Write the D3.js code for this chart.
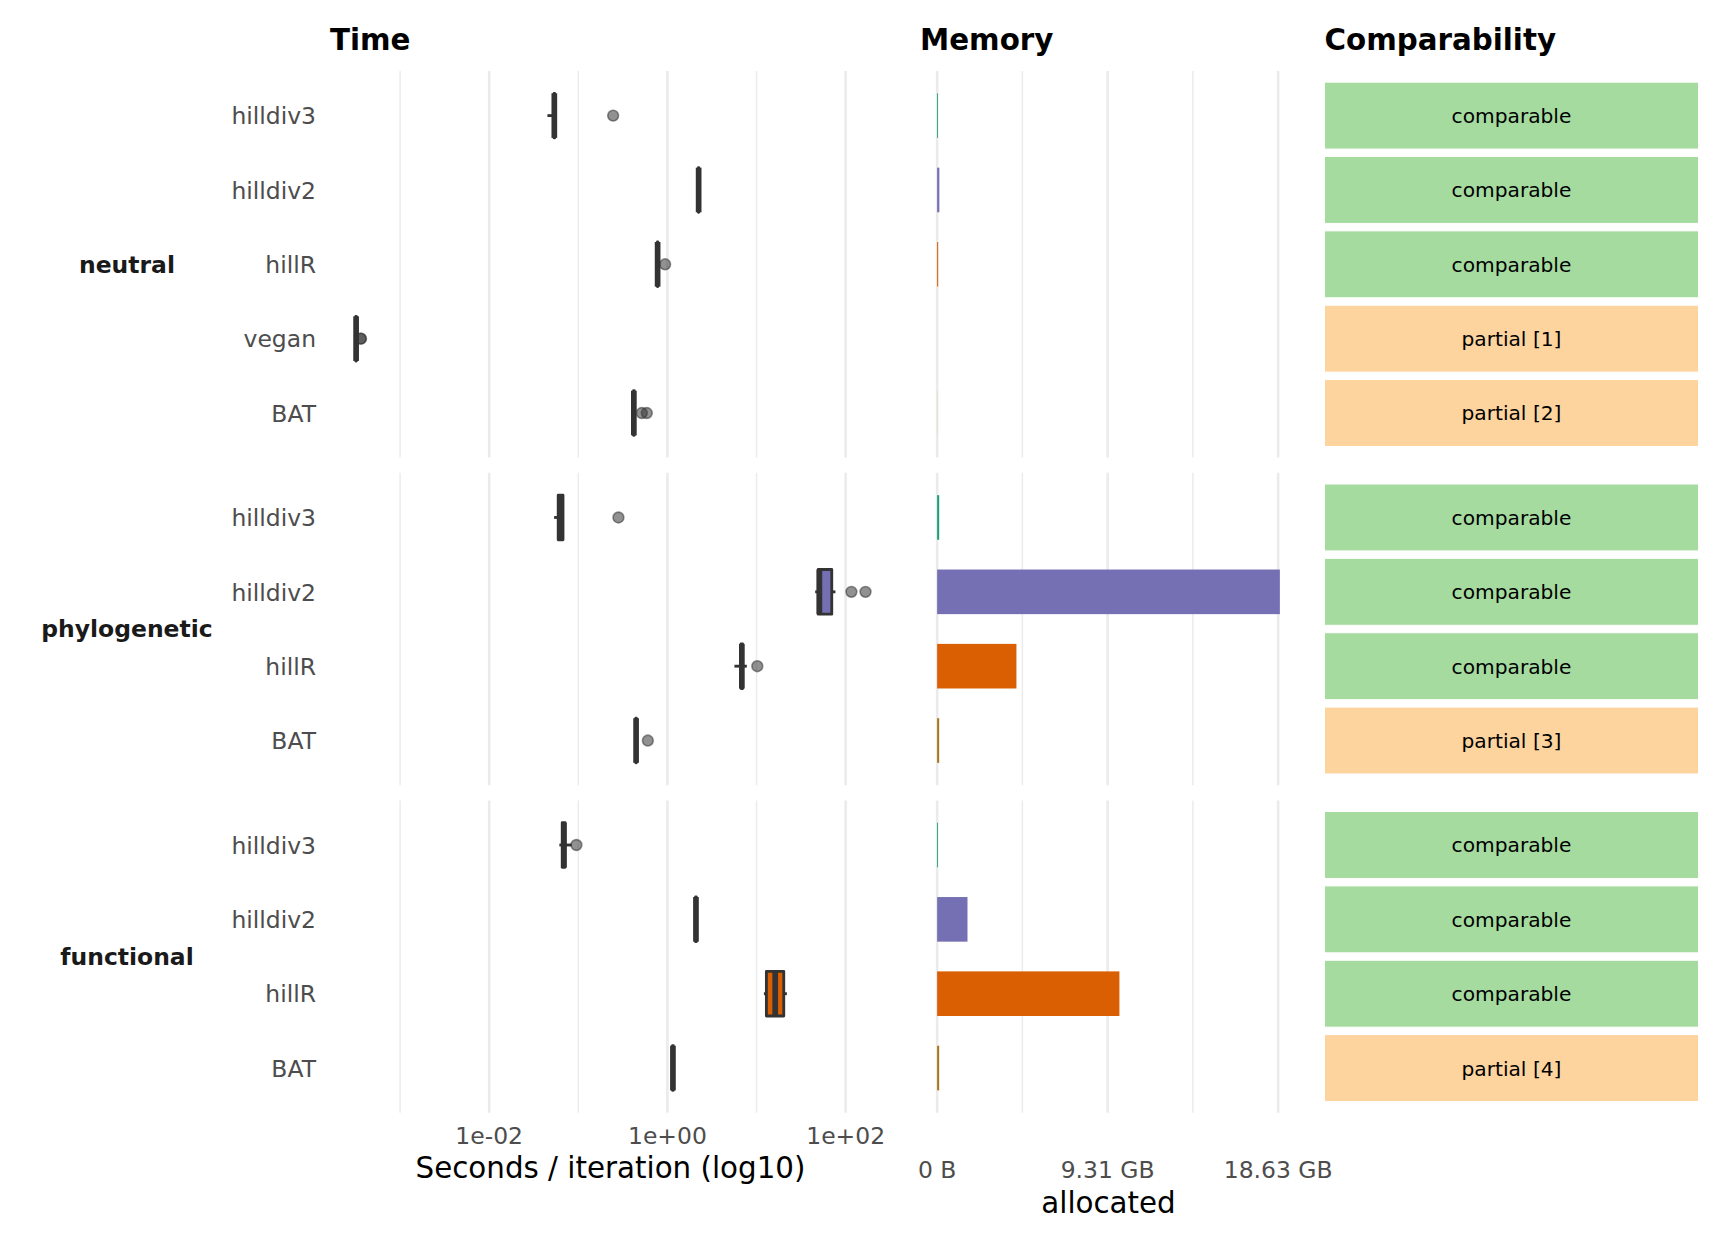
<!DOCTYPE html>
<html>
<head>
<meta charset="utf-8">
<script src="https://cdn.jsdelivr.net/npm/d3@7"></script>
<style>
  body { margin: 0; background: #ffffff; }
  svg { display: block; font-family: "DejaVu Sans", "Noto Sans", sans-serif; }
</style>
</head>
<body>
<svg id="chart" width="1728" height="1248"></svg>
<script>
// ---------------- DATA ----------------
const facets = ["neutral", "phylogenetic", "functional"];
const methods = ["hilldiv3", "hilldiv2", "hillR", "vegan", "BAT"];
const methodColors = ["#1B9E77", "#7570B3", "#D95F02", "#E7298A", "#A6761D"];

const rowFacet = ["neutral", "neutral", "neutral", "neutral", "neutral",
                  "phylogenetic", "phylogenetic", "phylogenetic", "phylogenetic",
                  "functional", "functional", "functional", "functional"];
const rowMethod = ["hilldiv3", "hilldiv2", "hillR", "vegan", "BAT",
                   "hilldiv3", "hilldiv2", "hillR", "BAT",
                   "hilldiv3", "hilldiv2", "hillR", "BAT"];

// seconds per iteration (boxplot summaries)
const timeMin = [0.045, 2.22, 0.770, 3.16e-4, 0.414, 0.0535, 45.5, 5.65, 0.440, 0.0613, 2.05, 12.1, 1.13];
const timeQ1  = [0.0535, 2.23, 0.772, 3.19e-4, 0.417, 0.0595, 49.2, 6.70, 0.442, 0.0660, 2.07, 12.9, 1.14];
const timeMed = [0.0538, 2.24, 0.776, 3.21e-4, 0.420, 0.0626, 50.7, 6.84, 0.445, 0.0689, 2.09, 16.2, 1.153];
const timeQ3  = [0.0542, 2.25, 0.780, 3.23e-4, 0.424, 0.0673, 69.8, 6.98, 0.448, 0.0710, 2.11, 20.2, 1.165];
const timeMax = [0.0545, 2.33, 0.785, 3.27e-4, 0.430, 0.0690, 76.8, 7.78, 0.450, 0.0845, 2.13, 21.9, 1.18];
const timeOutliers = [[0.246], [], [0.942], [3.60e-4, 3.64e-4], [0.516, 0.587],
                      [0.282], [116, 167], [10.2], [0.603],
                      [0.0952], [], [], []];

// memory allocated (bytes)
const memAlloc = [5.0e7, 1.3e8, 6.0e7, 1.0e6, 5.0e6,
                  1.2e8, 20.1e9, 4.65e9, 1.2e8,
                  5.0e7, 1.78e9, 10.69e9, 1.2e8];

// comparability labels
const comparability = ["comparable", "comparable", "comparable", "partial [1]", "partial [2]",
                       "comparable", "comparable", "comparable", "partial [3]",
                       "comparable", "comparable", "comparable", "partial [4]"];
const compLevels = ["comparable", "partial"];
const compColors = ["#A6DBA0", "#FDD49E"];

const timeMajorBreaks = [1e-2, 1e0, 1e2];
const timeMinorBreaks = [1e-3, 1e-1, 1e1];
const memMajorBreaks = [0, 1e10, 2e10];
const memMinorBreaks = [5e9, 1.5e10];

const panelTitles = ["Time", "Memory", "Comparability"];
const timeAxisTitle = "Seconds / iteration (log10)";
const memAxisTitle = "allocated";

// ---------------- LAYOUT ----------------
const svg = d3.select("#chart");
const W = 1728, H = 1248;
svg.append("rect").attr("width", W).attr("height", H).attr("fill", "#ffffff");

const baseSize = 29.33;          // 11pt @ 192dpi
const axisSize = baseSize * 0.8; // 8.8pt
const unit = 74.35;
const panelTop = 71;
const panelGap = 15.25;

const timeRange = [330, 891];
const memRange = [920, 1297];
const compRange = [1324.5, 1698.5];

const colorScale = d3.scaleOrdinal().domain(methods).range(methodColors);
const compColor = d3.scaleOrdinal().domain(compLevels).range(compColors);

// facet y-scales (discrete, expansion 0.6 units)
const facetScales = {};
let yCursor = panelTop;
facets.forEach(f => {
  const rows = rowMethod.filter((m, i) => rowFacet[i] === f);
  const h = (rows.length - 1 + 1.2) * unit;
  facetScales[f] = {
    top: yCursor, bottom: yCursor + h,
    scale: d3.scalePoint().domain(rows).range([yCursor, yCursor + h]).padding(0.6)
  };
  yCursor += h + panelGap;
});
const yOf = i => facetScales[rowFacet[i]].scale(rowMethod[i]);

// time scale (log10, 5% expansion)
const allTimes = [].concat(timeMin, timeMax, ...timeOutliers);
const lmin = Math.log10(d3.min(allTimes)), lmax = Math.log10(d3.max(allTimes));
const lr = lmax - lmin;
const xTime = d3.scaleLog()
  .domain([Math.pow(10, lmin - 0.05 * lr), Math.pow(10, lmax + 0.05 * lr)])
  .range(timeRange);

// memory scale (linear, 5% expansion)
const memMax = d3.max(memAlloc);
const xMem = d3.scaleLinear()
  .domain([0 - 0.05 * memMax, memMax * 1.05])
  .range(memRange);

// comparability x (single band filling panel)
const xComp = d3.scaleBand().domain(["Comparability"]).range(compRange).padding(0);

// ---------------- GRID ----------------
const gridG = svg.append("g");
facets.forEach(f => {
  const fs = facetScales[f];
  timeMinorBreaks.forEach(b => gridG.append("line")
    .attr("x1", xTime(b)).attr("x2", xTime(b)).attr("y1", fs.top).attr("y2", fs.bottom)
    .attr("stroke", "#EBEBEB").attr("stroke-width", 1.45));
  timeMajorBreaks.forEach(b => gridG.append("line")
    .attr("x1", xTime(b)).attr("x2", xTime(b)).attr("y1", fs.top).attr("y2", fs.bottom)
    .attr("stroke", "#EBEBEB").attr("stroke-width", 2.6));
  memMinorBreaks.forEach(b => gridG.append("line")
    .attr("x1", xMem(b)).attr("x2", xMem(b)).attr("y1", fs.top).attr("y2", fs.bottom)
    .attr("stroke", "#EBEBEB").attr("stroke-width", 1.45));
  memMajorBreaks.forEach(b => gridG.append("line")
    .attr("x1", xMem(b)).attr("x2", xMem(b)).attr("y1", fs.top).attr("y2", fs.bottom)
    .attr("stroke", "#EBEBEB").attr("stroke-width", 2.6));
});

// ---------------- BOXPLOTS ----------------
const boxH = 0.6 * unit;
const lineW = 2.85;
const boxG = svg.append("g");
rowMethod.forEach((m, i) => {
  const y = yOf(i);
  const g = boxG.append("g");
  g.append("line").attr("x1", xTime(timeMin[i])).attr("x2", xTime(timeQ1[i]))
    .attr("y1", y).attr("y2", y).attr("stroke", "#333333").attr("stroke-width", lineW);
  g.append("line").attr("x1", xTime(timeQ3[i])).attr("x2", xTime(timeMax[i]))
    .attr("y1", y).attr("y2", y).attr("stroke", "#333333").attr("stroke-width", lineW);
  g.append("rect")
    .attr("x", xTime(timeQ1[i])).attr("width", Math.max(0, xTime(timeQ3[i]) - xTime(timeQ1[i])))
    .attr("y", y - boxH / 2).attr("height", boxH)
    .attr("fill", colorScale(m)).attr("stroke", "#333333").attr("stroke-width", lineW)
    .attr("stroke-linejoin", "round");
  g.append("line").attr("x1", xTime(timeMed[i])).attr("x2", xTime(timeMed[i]))
    .attr("y1", y - boxH / 2).attr("y2", y + boxH / 2)
    .attr("stroke", "#333333").attr("stroke-width", lineW * 2);
  timeOutliers[i].forEach(o => g.append("circle")
    .attr("cx", xTime(o)).attr("cy", y).attr("r", 5.4)
    .attr("fill", "rgba(51,51,51,0.54)").attr("stroke", "rgba(51,51,51,0.54)")
    .attr("stroke-width", 1.6));
});

// ---------------- MEMORY BARS ----------------
const memG = svg.append("g");
rowMethod.forEach((m, i) => {
  const y = yOf(i);
  memG.append("rect")
    .attr("x", xMem(0)).attr("width", xMem(memAlloc[i]) - xMem(0))
    .attr("y", y - boxH / 2).attr("height", boxH)
    .attr("fill", colorScale(m));
});

// ---------------- COMPARABILITY TILES ----------------
const tileH = 0.9 * unit;
const compG = svg.append("g");
rowMethod.forEach((m, i) => {
  const y = yOf(i);
  const lvl = comparability[i].startsWith("partial") ? "partial" : "comparable";
  compG.append("rect")
    .attr("x", xComp("Comparability")).attr("width", xComp.bandwidth())
    .attr("y", y - tileH / 2).attr("height", tileH)
    .attr("fill", compColor(lvl)).attr("stroke", "#ffffff").attr("stroke-width", 1);
  compG.append("text")
    .attr("x", xComp("Comparability") + xComp.bandwidth() / 2).attr("y", y)
    .attr("dy", "0.37em").attr("text-anchor", "middle")
    .attr("font-size", 20.2).attr("fill", "#000000")
    .text(comparability[i]);
});

// ---------------- AXIS TEXT ----------------
const txtG = svg.append("g");
// y labels (methods)
rowMethod.forEach((m, i) => {
  txtG.append("text").attr("x", 316).attr("y", yOf(i)).attr("dy", "0.37em")
    .attr("text-anchor", "end").attr("font-size", axisSize).attr("fill", "#4D4D4D")
    .text(m);
});
// facet strips (left)
facets.forEach(f => {
  const fs = facetScales[f];
  txtG.append("text").attr("x", 127).attr("y", (fs.top + fs.bottom) / 2).attr("dy", "0.36em")
    .attr("text-anchor", "middle").attr("font-size", axisSize).attr("font-weight", "bold")
    .attr("fill", "#1A1A1A").text(f);
});
// x tick labels
const fmtSci = v => {
  const e = Math.round(Math.log10(v));
  const m = v / Math.pow(10, e);
  const sign = e < 0 ? "-" : "+";
  return `${Math.round(m)}e${sign}${String(Math.abs(e)).padStart(2, "0")}`;
};
timeMajorBreaks.forEach(b => txtG.append("text")
  .attr("x", xTime(b)).attr("y", 1144).attr("text-anchor", "middle")
  .attr("font-size", axisSize).attr("fill", "#4D4D4D").text(fmtSci(b)));
const fmtBytes = v => v === 0 ? "0 B" : `${(v / Math.pow(1024, 3)).toFixed(2)} GB`;
memMajorBreaks.forEach(b => txtG.append("text")
  .attr("x", xMem(b)).attr("y", 1178.3).attr("text-anchor", "middle")
  .attr("font-size", axisSize).attr("fill", "#4D4D4D").text(fmtBytes(b)));
// axis titles
txtG.append("text").attr("x", (timeRange[0] + timeRange[1]) / 2).attr("y", 1178)
  .attr("text-anchor", "middle").attr("font-size", baseSize).attr("fill", "#000000")
  .text(timeAxisTitle);
txtG.append("text").attr("x", (memRange[0] + memRange[1]) / 2).attr("y", 1212.7)
  .attr("text-anchor", "middle").attr("font-size", baseSize).attr("fill", "#000000")
  .text(memAxisTitle);
// panel titles
[timeRange[0], memRange[0], compRange[0]].forEach((x, k) => txtG.append("text")
  .attr("x", x).attr("y", 50).attr("font-size", baseSize).attr("font-weight", "bold")
  .attr("fill", "#000000").text(panelTitles[k]));
</script>
</body>
</html>
